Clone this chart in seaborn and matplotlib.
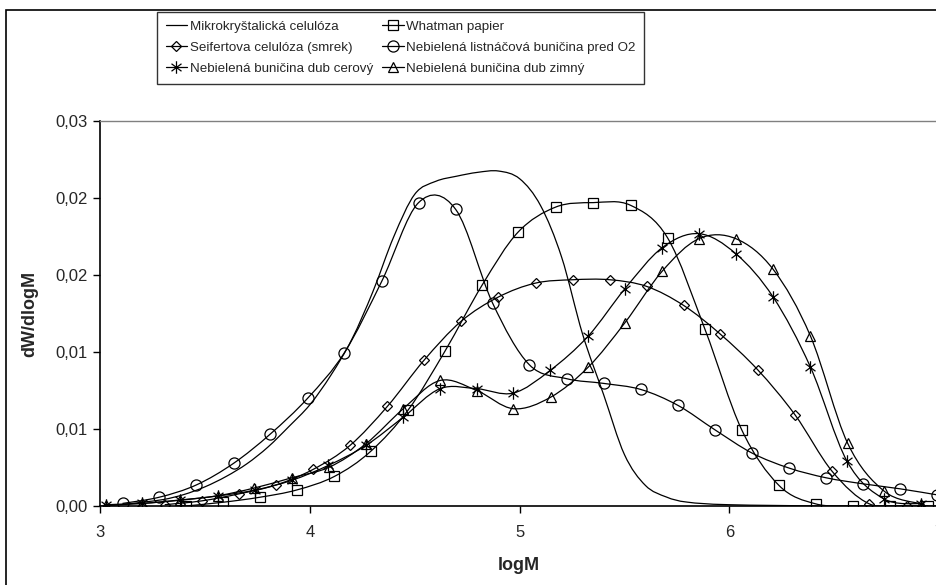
import numpy as np
import matplotlib
matplotlib.use("Agg")
import matplotlib.pyplot as plt
from matplotlib import font_manager
from matplotlib.path import Path
from matplotlib.patches import PathPatch, Rectangle
from matplotlib.lines import Line2D
from matplotlib.ticker import FuncFormatter
import seaborn as sns

# --- data (logM, dW/dlogM) ---
mikro_x = [3.0, 3.1, 3.2, 3.3, 3.4, 3.5, 3.6, 3.7, 3.8, 3.9, 4.0, 4.1, 4.2, 4.3,
           4.4, 4.5, 4.6, 4.7, 4.8, 4.9, 5.0, 5.1, 5.2, 5.3, 5.4, 5.5, 5.6, 5.7,
           5.8, 6.0, 6.5, 7.0]
mikro_y = [0.0, 0.0001, 0.0003, 0.0005, 0.0009, 0.0015, 0.0023, 0.0033, 0.0046,
           0.0062, 0.0079, 0.0102, 0.0130, 0.0167, 0.0210, 0.0243, 0.0253, 0.0257,
           0.0260, 0.0261, 0.0255, 0.0234, 0.0194, 0.0134, 0.0087, 0.0040, 0.0016,
           0.0007, 0.0003, 0.0001, 0.0, 0.0]

whatman_x = [3.407, 3.584, 3.76, 3.937, 4.116, 4.289, 4.469, 4.645, 4.822, 4.993,
             5.173, 5.351, 5.529, 5.706, 5.884, 6.059, 6.237, 6.411, 6.588, 6.766, 6.949]
whatman_y = [0.0, 0.00029, 0.00068, 0.00125, 0.0023, 0.00425, 0.0075, 0.0121, 0.01724,
             0.02135, 0.0233, 0.02364, 0.02343, 0.02088, 0.01376, 0.00594, 0.0016,
             0.00017, 0.0, 0.0, 0.0]

seifert_x = [3.307, 3.484, 3.66, 3.838, 4.016, 4.191, 4.369, 4.543, 4.72, 4.898, 5.076,
             5.253, 5.43, 5.606, 5.782, 5.955, 6.135, 6.313, 6.491, 6.667, 6.845]
seifert_y = [0.0001, 0.0004, 0.00094, 0.00164, 0.00286, 0.00472, 0.00776, 0.01134,
             0.01438, 0.01628, 0.01737, 0.01763, 0.01763, 0.01711, 0.01563, 0.01342,
             0.01062, 0.00711, 0.00269, 0.00017, 0.0]

o2_x = [3.106, 3.28, 3.458, 3.636, 3.811, 3.989, 4.164, 4.342, 4.518, 4.695, 4.871,
        5.046, 5.224, 5.402, 5.578, 5.755, 5.931, 6.109, 6.286, 6.461, 6.637, 6.814, 6.99]
o2_y = [0.0002, 0.00068, 0.00164, 0.00333, 0.00561, 0.0084, 0.01194, 0.0175, 0.02364,
        0.02311, 0.01581, 0.01101, 0.00992, 0.00955, 0.00908, 0.00784, 0.00594,
        0.00412, 0.00295, 0.0022, 0.00173, 0.00134, 0.00087]

cer_x = [3.026, 3.2, 3.38, 3.56, 3.74, 3.913, 4.087, 4.267, 4.445, 4.62, 4.795, 4.97,
         5.145, 5.327, 5.502, 5.68, 5.855, 6.031, 6.209, 6.387, 6.562, 6.737, 6.912]
cer_y = [0.0001, 0.0002, 0.00047, 0.00078, 0.00125, 0.002, 0.00316, 0.00472, 0.00692,
         0.00914, 0.00914, 0.0088, 0.01056, 0.01324, 0.01693, 0.02013, 0.02122, 0.01966,
         0.01628, 0.01082, 0.00347, 0.00056, 0.00017]

zim_x = [3.026, 3.2, 3.38, 3.56, 3.734, 3.913, 4.091, 4.267, 4.445, 4.62, 4.795, 4.97,
         5.148, 5.327, 5.502, 5.68, 5.855, 6.031, 6.209, 6.387, 6.564, 6.739, 6.912]
zim_y = [0.0001, 0.0002, 0.00045, 0.0008, 0.0014, 0.0022, 0.00302, 0.00485, 0.00758,
         0.00978, 0.009, 0.00758, 0.00848, 0.01082, 0.01428, 0.0183, 0.02083, 0.02083,
         0.01844, 0.01324, 0.0049, 0.00115, 0.00017]

labels = ["Mikrokryštalická celulóza", "Whatman papier", "Seifertova celulóza (smrek)",
          "Nebielená listnáčová buničina pred O2", "Nebielená buničina dub cerový",
          "Nebielená buničina dub zimný"]

y_ticks = [0.0, 0.006, 0.012, 0.018, 0.024, 0.03]
x_ticks = [3, 4, 5, 6, 7]

# Excel style asterisk: vertical bar plus an X
star = Path([(0, -1), (0, 1), (-0.8, -0.6), (0.8, 0.6), (-0.8, 0.6), (0.8, -0.6)],
            [Path.MOVETO, Path.LINETO] * 3)


def smooth_path(xs, ys):
    # bezier segments like Excel's "smoothed line"
    pts = np.column_stack([xs, ys])
    n = len(pts)
    verts = [pts[0]]
    codes = [Path.MOVETO]
    for i in range(n - 1):
        p0 = pts[max(i - 1, 0)]
        p1 = pts[i]
        p2 = pts[i + 1]
        p3 = pts[min(i + 2, n - 1)]
        c1 = p1 + (p2 - p0) / 6.0
        c2 = p2 - (p3 - p1) / 6.0
        verts += [c1, c2, p2]
        codes += [Path.CURVE4] * 3
    return Path(verts, codes)


def main():
    sns.set_theme(style="white")
    names = {f.name for f in font_manager.fontManager.ttflist}
    fam = "Liberation Sans Narrow" if "Liberation Sans Narrow" in names else "Liberation Sans"
    plt.rcParams["font.family"] = [fam, "DejaVu Sans"]

    fig = plt.figure(figsize=(9.37, 5.85), dpi=100)
    ax = fig.add_axes([100.3 / 937, 1 - 506 / 585, 838.7 / 937, 385 / 585])

    mk_list = [None, "s", "D", "o", star, "^"]
    ms_list = [0, 7.5, 5.3, 8, 9, 7.5]
    series = [(mikro_x, mikro_y), (whatman_x, whatman_y), (seifert_x, seifert_y),
              (o2_x, o2_y), (cer_x, cer_y), (zim_x, zim_y)]

    for (xs, ys), mk, ms in zip(series, mk_list, ms_list):
        ax.add_patch(PathPatch(smooth_path(xs, ys), fill=False, edgecolor="black",
                               lw=0.9, zorder=2))
        if mk is not None:
            sns.lineplot(x=xs, y=ys, ax=ax, linestyle="none", marker=mk, markersize=ms,
                         markerfacecolor="none", markeredgecolor="black",
                         markeredgewidth=0.9, color="black", sort=False,
                         estimator=None, zorder=3)

    ax.set_xlim(3, 7)
    ax.set_ylim(0, 0.03)
    ax.set_xticks(x_ticks)
    ax.set_yticks(y_ticks)
    ax.yaxis.set_major_formatter(FuncFormatter(lambda v, p: f"{v:.2f}".replace(".", ",")))
    ax.xaxis.set_major_formatter(FuncFormatter(lambda v, p: f"{v:.0f}"))
    ax.tick_params(axis="both", direction="out", length=5, width=1, color="black",
                   labelsize=12, pad=4, bottom=True, left=True)
    ax.tick_params(axis="x", pad=9)
    for side in ["left", "bottom"]:
        ax.spines[side].set_color("black")
        ax.spines[side].set_linewidth(1.2)
    ax.spines["top"].set_color("#808080")
    ax.spines["top"].set_linewidth(1)
    ax.spines["right"].set_visible(False)
    ax.grid(False)

    ax.set_xlabel("logM", fontsize=13, fontweight="bold")
    ax.set_ylabel("dW/dlogM", fontsize=13, fontweight="bold")
    ax.xaxis.set_label_coords((519 - 100.3) / 838.7, (506 - 557) / 385)
    ax.yaxis.set_label_coords((38 - 100.3) / 838.7, 0.5)

    # legend
    handles = [Line2D([], [], color="black", lw=0.9, marker=m, markersize=s,
                      markerfacecolor="none", markeredgecolor="black",
                      markeredgewidth=0.9) for m, s in zip(mk_list, ms_list)]
    order = [0, 2, 4, 1, 3, 5]
    leg = fig.legend([handles[i] for i in order], [labels[i] for i in order],
                     ncol=2, loc="upper left",
                     bbox_to_anchor=(157 / 937, 1 - 12 / 585),
                     frameon=True, fancybox=False, fontsize=9.6,
                     handlelength=1.6, handletextpad=0.2, columnspacing=0.7,
                     labelspacing=0.65, borderpad=0.65, borderaxespad=0)
    leg.get_frame().set_edgecolor("black")
    leg.get_frame().set_linewidth(1)

    # chart area border (cut at right and bottom)
    fig.add_artist(Rectangle((6 / 937, -0.05), 1.2, 1 - 10 / 585 + 0.05,
                             transform=fig.transFigure, fill=False,
                             edgecolor="black", lw=1.2))

    fig.savefig("out.png", dpi=100)
    plt.close(fig)


if __name__ == "__main__":
    main()
